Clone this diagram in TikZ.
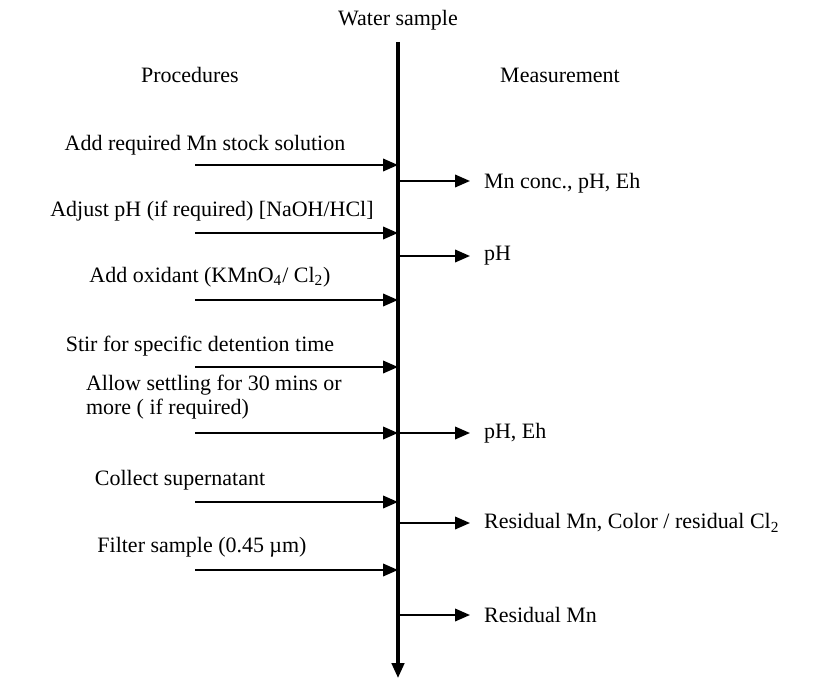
\documentclass[tikz,border=0pt]{standalone}
\usepackage{fontspec}
\setmainfont{Liberation Serif}
\usetikzlibrary{arrows.meta, positioning}

\tikzset{
  feed/.style={line width=1.2pt, -{Triangle[length=0.3cm, width=0.25cm]}},
  label/.style={inner sep=1pt},
}

\begin{document}
\begin{tikzpicture}[x=0.02cm, y=-0.02cm, font=\fontsize{12.5}{14}\selectfont]
    \useasboundingbox (0,0) rectangle (832,679);
    \coordinate (Top) at (398,42);
    \coordinate (Bottom) at (398,678);
    \node[label] (sample) at (398,20) {Water sample};
    \node[label] (proc) at (190,75) {Procedures};
    \node[label] (meas) at (560,75) {Measurement};
    \draw[line width=1.8pt, -{Triangle[length=0.3cm, width=0.25cm]}] (Top) -- (Bottom);% main stream

    % procedures (left)
    \foreach \n/\y in {a/165,b/233,c/300,d/367,e/433,f/502,g/570}{
        \coordinate (in-\n) at (195,\y);
        \coordinate (on-\n) at (398,\y);
        \draw[feed] (in-\n) -- (on-\n);
    }
    \node[label] (stock) at (205,145) {Add required Mn stock solution};
    \node[label] (adjust) at (212,211) {Adjust pH (if required) [NaOH/HCl]};
    \node[label] (oxid) at (210,277) {Add oxidant (KMnO\textsubscript{4}/ Cl\textsubscript{2})};
    \node[label] (stir) at (200,346) {Stir for specific detention time};
    \node[label, align=left, anchor=west] (settle) at (84,397) {Allow settling for 30 mins or\\more ( if required)};
    \node[label] (collect) at (180,480) {Collect supernatant};
    \node[label] (filter) at (202,547) {Filter sample (0.45 µm)};

    % measurements (right)
    \foreach \n/\y in {p/181,q/256,r/433,s/523,t/615}{
        \coordinate (out-\n) at (398,\y);
        \coordinate (tip-\n) at (470,\y);
        \draw[feed] (out-\n) -- (tip-\n);
    }
    \node[label, anchor=west] (m1) at (482,183) {Mn conc., pH, Eh};
    \node[label, anchor=west] (m2) at (482,256) {pH};
    \node[label, anchor=west] (m3) at (482,433) {pH, Eh};
    \node[label, anchor=west] (m4) at (482,523) {Residual Mn, Color / residual Cl\textsubscript{2}};
    \node[label, anchor=west] (m5) at (482,615) {Residual Mn};
\end{tikzpicture}
\end{document}
